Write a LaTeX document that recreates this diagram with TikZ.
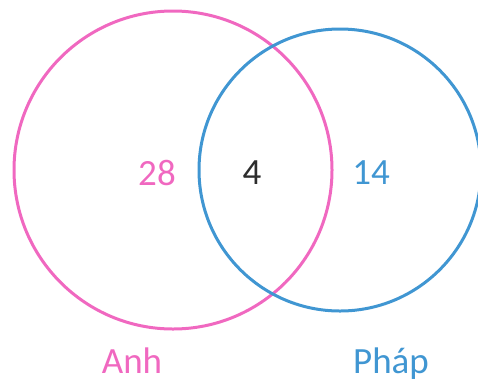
\documentclass[tikz,border=0pt]{standalone}
\usepackage{fontspec}
\setmainfont{Carlito}
\definecolor{anhpink}{RGB}{240,104,192}
\definecolor{phapblue}{RGB}{64,150,210}
\definecolor{bothgray}{RGB}{45,45,45}
\begin{document}
\begin{tikzpicture}[x=1pt,y=-1pt,
  num/.style={font=\fontsize{37}{40}\selectfont},
  lbl/.style={font=\fontsize{37}{40}\selectfont}]
\useasboundingbox (0,0) rectangle (478,381);
\draw[anhpink,line width=3pt] (173,170) circle (159);
\draw[phapblue,line width=3pt] (340,170) circle (141);
\node[num,text=anhpink] (anhonly) at (157,173) {28};
\node[num,text=bothgray] (both) at (252,173) {4};
\node[num,text=phapblue] (phaponly) at (371,173) {14};
\node[lbl,text=anhpink,anchor=base] (anh) at (132,373) {Anh};
\node[lbl,text=phapblue,anchor=base] (phap) at (391,373) {Pháp};
\end{tikzpicture}
\end{document}
